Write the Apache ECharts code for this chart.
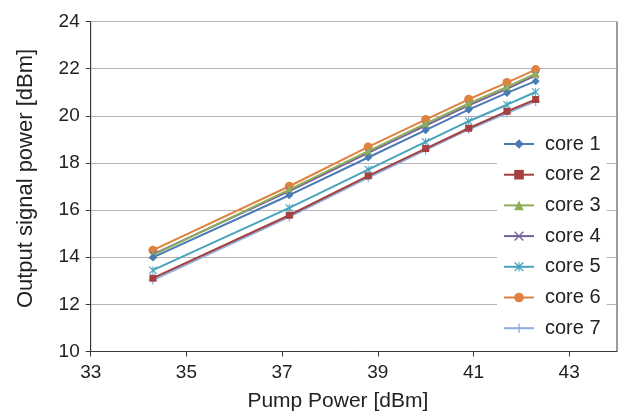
<!DOCTYPE html>
<html>
<head>
<meta charset="utf-8">
<script src="https://cdn.jsdelivr.net/npm/echarts@6/dist/echarts.min.js"></script>
<style>
html,body{margin:0;padding:0;background:#fff;}
#chart{width:618px;height:417px;}
</style>
</head>
<body>
<div id="chart"></div>
<script>
var pumpPower = [34.3, 37.15, 38.8, 40.0, 40.9, 41.7, 42.3];
var core1 = [13.99, 16.63, 18.23, 19.39, 20.26, 20.97, 21.47];
var core2 = [13.11, 15.78, 17.45, 18.61, 19.47, 20.19, 20.69];
var core3 = [14.09, 16.87, 18.50, 19.67, 20.52, 21.22, 21.79];
var core4 = [14.12, 16.81, 18.43, 19.58, 20.44, 21.14, 21.72];
var core5 = [13.45, 16.09, 17.72, 18.89, 19.77, 20.47, 21.01];
var core6 = [14.30, 17.01, 18.68, 19.84, 20.70, 21.41, 21.96];
var core7 = [13.03, 15.71, 17.38, 18.54, 19.42, 20.12, 20.61];
var seriesNames = ['core 1','core 2','core 3','core 4','core 5','core 6','core 7'];
var xTicks = [33, 35, 37, 39, 41, 43];
var yTicks = [10, 12, 14, 16, 18, 20, 22, 24];

var colors = ['#4a7bb4','#a5403f','#8fae5a','#75609e','#48a3bd','#e0823f','#8eaedb'];
var symbols = [
  'diamond',
  'rect',
  'triangle',
  'path://M0,1L1,0L5,4L9,0L10,1L6,5L10,9L9,10L5,6L1,10L0,9L4,5Z',
  'path://M0,1L1,0L5,4L9,0L10,1L6,5L10,9L9,10L5,6L1,10L0,9L4,5Z M4.4,0H5.6V10H4.4Z',
  'circle',
  'path://M4.3,0H5.7V4.3H10V5.7H5.7V10H4.3V5.7H0V4.3H4.3Z'
];
var sizes = [8, 7, 8, 7, 8, 9, 9];
var allData = [core1, core2, core3, core4, core5, core6, core7];

var series = allData.map(function (vals, i) {
  return {
    name: seriesNames[i],
    type: 'line',
    data: pumpPower.map(function (x, j) { return [x, vals[j]]; }),
    symbol: symbols[i],
    symbolSize: sizes[i],
    showAllSymbol: true,
    lineStyle: { color: colors[i], width: 2 },
    itemStyle: { color: colors[i], opacity: 1 },
    emphasis: { disabled: true },
    z: 10 - i
  };
});

var font = 'Liberation Sans, Arial, Helvetica, sans-serif';
var chart = echarts.init(document.getElementById('chart'), null, { renderer: 'canvas' });
chart.setOption({
  animation: false,
  backgroundColor: '#fff',
  color: colors,
  grid: {
    left: 90.7, right: 1, top: 21.5, bottom: 65.5,
    show: true, borderColor: '#3a3a3a', borderWidth: 1, backgroundColor: 'transparent'
  },
  xAxis: {
    type: 'value', min: 33, max: 44, interval: 2,
    name: 'Pump Power [dBm]', nameLocation: 'middle', nameGap: 39,
    nameTextStyle: { fontFamily: font, fontSize: 21, color: '#222', padding: [0, 32, 0, 0] },
    axisLine: { show: true, lineStyle: { color: '#3a3a3a', width: 1 } },
    axisTick: { show: true, length: 5, customValues: xTicks, lineStyle: { color: '#3a3a3a' } },
    axisLabel: { customValues: xTicks, fontFamily: font, fontSize: 19, color: '#222', margin: 12 },
    splitLine: { show: false }
  },
  yAxis: {
    type: 'value', min: 10, max: 24, interval: 2,
    name: 'Output signal power [dBm]', nameLocation: 'middle', nameGap: 54, nameRotate: 90,
    nameTextStyle: { fontFamily: font, fontSize: 22, color: '#222', padding: [0, 0, 0, 16] },
    axisLine: { show: true, lineStyle: { color: '#3a3a3a', width: 1 } },
    axisTick: { show: true, length: 5, lineStyle: { color: '#3a3a3a' } },
    axisLabel: { fontFamily: font, fontSize: 19, color: '#222', margin: 11 },
    splitLine: { show: true, lineStyle: { color: '#b4b4b4', width: 1.2 } }
  },
  legend: {
    orient: 'vertical',
    left: 497, top: 129,
    backgroundColor: '#fff',
    padding: [5, 6, 5, 6],
    itemWidth: 30, itemHeight: 12, itemGap: 10.7,
    textStyle: { fontFamily: font, fontSize: 20, color: '#222', lineHeight: 20, padding: [0, 0, 0, 6] },
    data: seriesNames
  },
  series: series
});
</script>
</body>
</html>
